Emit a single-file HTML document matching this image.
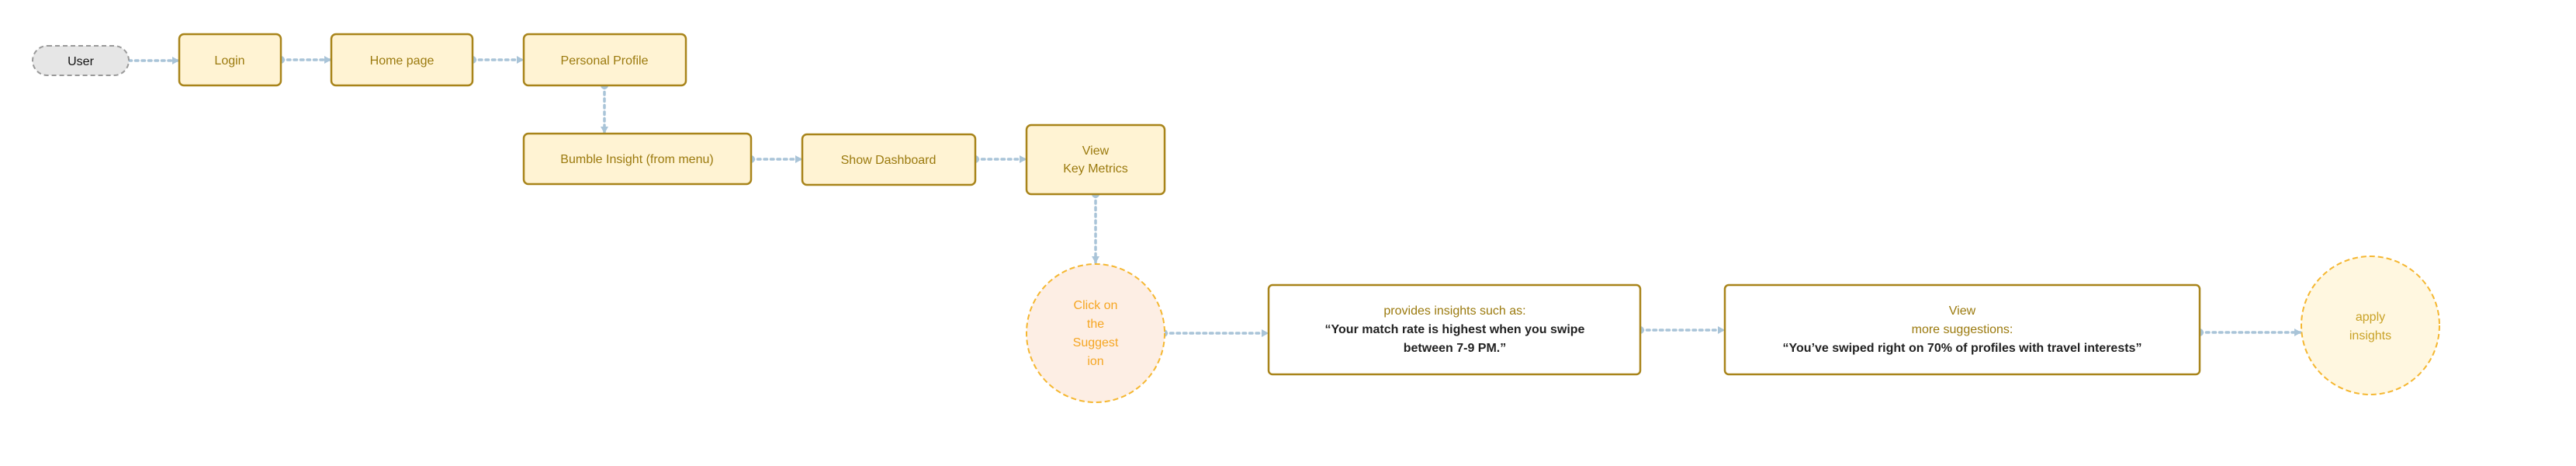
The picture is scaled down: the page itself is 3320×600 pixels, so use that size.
<!DOCTYPE html>
<html><head><meta charset="utf-8"><style>
html,body{margin:0;padding:0;background:#fff;}
svg{display:block;font-family:"Liberation Sans",sans-serif;}
</style></head><body>
<svg width="3320" height="600" viewBox="0 0 3320 600" xmlns="http://www.w3.org/2000/svg">
<defs>
<marker id="ar" markerWidth="10" markerHeight="10" refX="8" refY="5" orient="auto" markerUnits="userSpaceOnUse">
<path d="M0,0 L9,5 L0,10 Z" fill="#a9c4d8"/>
</marker>
</defs>
<g fill="none" stroke="#a9c4d8" stroke-width="3.5" stroke-dasharray="3.5 5" stroke-linecap="round" marker-end="url(#ar)">
<path d="M166 78 H230"/>
<path d="M362 77 H426"/>
<path d="M609 77 H674"/>
<path d="M779 110 V171"/>
<path d="M968 205 H1033"/>
<path d="M1257 205 H1322"/>
<path d="M1412 250 V338"/>
<path d="M1500 429 H1634"/>
<path d="M2114 425 H2222"/>
<path d="M2835 428 H2965"/>
</g>
<g fill="#a9c4d8">
<circle cx="362" cy="77" r="5"/><circle cx="609" cy="77" r="5"/>
<circle cx="779" cy="110" r="5"/><circle cx="968" cy="205" r="5"/>
<circle cx="1257" cy="205" r="5"/><circle cx="1412" cy="250" r="5"/>
<circle cx="1500" cy="429" r="5"/><circle cx="2114" cy="425" r="5"/>
<circle cx="2835" cy="428" r="5"/>
</g>
<rect x="42" y="59" width="124" height="38" rx="19" fill="#e6e6e6" stroke="#999" stroke-width="2" stroke-dasharray="6 4"/>
<text x="104" y="84" text-anchor="middle" font-size="16" fill="#111">User</text>
<g fill="#fff3d3" stroke="#a8841a" stroke-width="2.5">
<rect x="231" y="44" width="131" height="66" rx="6"/>
<rect x="427" y="44" width="182" height="66" rx="6"/>
<rect x="675" y="44" width="209" height="66" rx="6"/>
<rect x="675" y="172" width="293" height="65" rx="6"/>
<rect x="1034" y="173" width="223" height="65" rx="6"/>
<rect x="1323" y="161" width="178" height="89" rx="6"/>
</g>
<g fill="#9b7a0e" font-size="16" text-anchor="middle">
<text x="296" y="83">Login</text>
<text x="518" y="83">Home page</text>
<text x="779" y="83">Personal Profile</text>
<text x="821" y="210">Bumble Insight (from menu)</text>
<text x="1145" y="211">Show Dashboard</text>
<text x="1412" y="199">View</text>
<text x="1412" y="222">Key Metrics</text>
</g>
<circle cx="1412" cy="429" r="89" fill="#fdeee4" stroke="#f5b731" stroke-width="2" stroke-dasharray="7 4"/>
<g fill="#f5a623" font-size="16" text-anchor="middle">
<text x="1412" y="398">Click on</text>
<text x="1412" y="422">the</text>
<text x="1412" y="446">Suggest</text>
<text x="1412" y="470">ion</text>
</g>
<g fill="#fff" stroke="#a8841a" stroke-width="2.5">
<rect x="1635" y="367" width="479" height="115" rx="5"/>
<rect x="2223" y="367" width="612" height="115" rx="5"/>
</g>
<g font-size="16" text-anchor="middle">
<text x="1875" y="405" fill="#9b7a0e">provides insights such as:</text>
<text x="1875" y="429" fill="#222" font-weight="bold">“Your match rate is highest when you swipe</text>
<text x="1875" y="453" fill="#222" font-weight="bold">between 7-9 PM.”</text>
<text x="2529" y="405" fill="#9b7a0e">View</text>
<text x="2529" y="429" fill="#9b7a0e">more suggestions:</text>
<text x="2529" y="453" fill="#222" font-weight="bold">“You’ve swiped right on 70% of profiles with travel interests”</text>
</g>
<circle cx="3055" cy="419" r="89" fill="#fff7e0" stroke="#f5b731" stroke-width="2" stroke-dasharray="7 4"/>
<g fill="#c9a227" font-size="16" text-anchor="middle">
<text x="3055" y="413">apply</text>
<text x="3055" y="437">insights</text>
</g>
</svg>
</body></html>
